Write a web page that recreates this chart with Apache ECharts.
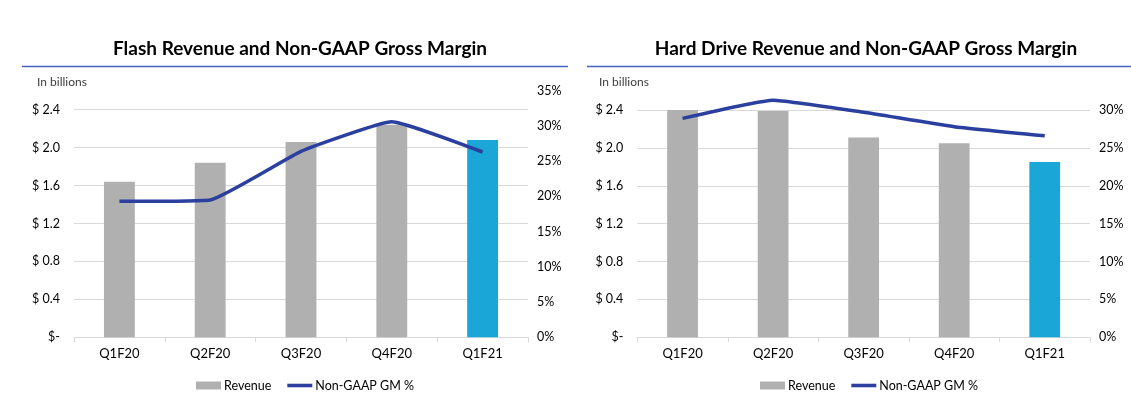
<!DOCTYPE html>
<html>
<head>
<meta charset="utf-8">
<script src="https://cdn.jsdelivr.net/npm/echarts@6/dist/echarts.min.js"></script>
<style>
html,body{margin:0;padding:0;background:#fff;}
#chart{width:1131px;height:395px;}
</style>
</head>
<body>
<div id="chart"></div>
<script>
// ---- data ----
const categories = ['Q1F20', 'Q2F20', 'Q3F20', 'Q4F20', 'Q1F21'];
const flashRevenue = [1.64, 1.84, 2.06, 2.24, 2.08];
const flashMargin = [19.3, 19.5, 26.4, 30.6, 26.3];
const hddRevenue = [2.41, 2.39, 2.11, 2.05, 1.85];
const hddMargin = [28.9, 31.3, 29.7, 27.8, 26.6];
const highlightIndex = 4;
const chartTitles = ['Flash Revenue and Non-GAAP Gross Margin', 'Hard Drive Revenue and Non-GAAP Gross Margin'];
const unitNote = 'In billions';
const seriesNames = ['Revenue', 'Non-GAAP GM %'];

// ---- style ----
const FONT = 'Lato, "Open Sans", sans-serif';
const GRAY = '#b0b0b0';
const CYAN = '#1aa7d8';
const LINE = '#2b3f9e';
const RULE = '#4a62c0';
const GRID = '#d9d9d9';

const chart = echarts.init(document.getElementById('chart'), null, {renderer: 'canvas'});

function barData(arr) {
  return arr.map((v, i) => i === highlightIndex ? {value: v, itemStyle: {color: CYAN}} : v);
}
function revLabel(v) {
  return v === 0 ? '$-' : '$ ' + v.toFixed(1);
}

const xAxisBase = {
  type: 'category',
  data: categories,
  boundaryGap: true,
  axisLine: {show: true, lineStyle: {color: GRID, width: 1}},
  axisTick: {show: true, length: 5, lineStyle: {color: GRID}},
  axisLabel: {color: '#000', fontFamily: FONT, fontSize: 13, margin: 10},
  splitLine: {show: false}
};

function leftAxis(gridIndex, max) {
  return {
    type: 'value', gridIndex: gridIndex, position: 'left',
    min: 0, max: max, interval: 0.4,
    axisLine: {show: false}, axisTick: {show: false},
    axisLabel: {color: '#000', fontFamily: FONT, fontSize: 12.5, margin: 14,
      showMaxLabel: max === 2.4, formatter: revLabel},
    splitLine: {show: true, showMaxLine: max === 2.4, lineStyle: {color: GRID, width: 1}}
  };
}
function rightAxis(gridIndex, max) {
  return {
    type: 'value', gridIndex: gridIndex, position: 'right',
    min: 0, max: max, interval: 5,
    axisLine: {show: false}, axisTick: {show: false},
    axisLabel: {color: '#000', fontFamily: FONT, fontSize: 12.5, margin: 9,
      formatter: v => v + '%'},
    splitLine: {show: false}
  };
}

const legendBase = {
  data: [
    {name: seriesNames[0], icon: 'rect'},
    {name: seriesNames[1], icon: 'path://M0,0L28,0L28,4L0,4Z'}
  ],
  itemWidth: 25, itemHeight: 8, itemGap: 16, padding: 0,
  textStyle: {color: '#000', fontFamily: FONT, fontSize: 12.5, padding: [0, 0, 0, -2]},
  top: 379, selectedMode: false
};

const option = {
  animation: false,
  backgroundColor: '#fff',
  title: [
    {text: chartTitles[0], left: 295, top: 34, textAlign: 'center',
      textStyle: {fontFamily: FONT, fontWeight: 'bold', fontSize: 19, color: '#000'}},
    {text: chartTitles[1], left: 861, top: 34, textAlign: 'center',
      textStyle: {fontFamily: FONT, fontWeight: 'bold', fontSize: 19, color: '#000'}},
    {text: unitNote, left: 32, top: 71,
      textStyle: {fontFamily: FONT, fontWeight: 'normal', fontSize: 12, color: '#404040'}},
    {text: unitNote, left: 594, top: 71,
      textStyle: {fontFamily: FONT, fontWeight: 'normal', fontSize: 12, color: '#404040'}}
  ],
  graphic: [
    {type: 'line', shape: {x1: 22, y1: 66.5, x2: 568, y2: 66.5}, style: {stroke: RULE, lineWidth: 1.5}},
    {type: 'line', shape: {x1: 587, y1: 66.5, x2: 1131, y2: 66.5}, style: {stroke: RULE, lineWidth: 1.5}}
  ],
  legend: [
    Object.assign({}, legendBase, {left: 196}),
    Object.assign({}, legendBase, {left: 760})
  ],
  grid: [
    {left: 74, width: 454, top: 90.7, height: 246.6, containLabel: false},
    {left: 637.3, width: 452.7, top: 110, height: 227.3, containLabel: false}
  ],
  xAxis: [
    Object.assign({}, xAxisBase, {gridIndex: 0}),
    Object.assign({}, xAxisBase, {gridIndex: 1})
  ],
  yAxis: [
    leftAxis(0, 2.6),
    rightAxis(0, 35),
    leftAxis(1, 2.4),
    rightAxis(1, 30)
  ],
  series: [
    {name: seriesNames[0], type: 'bar', xAxisIndex: 0, yAxisIndex: 0,
      data: barData(flashRevenue), barWidth: '34%', itemStyle: {color: GRAY}},
    {name: seriesNames[1], type: 'line', xAxisIndex: 0, yAxisIndex: 1,
      data: flashMargin, symbol: 'none', smooth: 0.12, clip: false,
      lineStyle: {color: LINE, width: 3.5}, itemStyle: {color: LINE}, z: 5},
    {name: seriesNames[0], type: 'bar', xAxisIndex: 1, yAxisIndex: 2,
      data: barData(hddRevenue), barWidth: '34%', itemStyle: {color: GRAY}},
    {name: seriesNames[1], type: 'line', xAxisIndex: 1, yAxisIndex: 3,
      data: hddMargin, symbol: 'none', smooth: 0.12, clip: false,
      lineStyle: {color: LINE, width: 3.5}, itemStyle: {color: LINE}, z: 5}
  ]
};
chart.setOption(option);
</script>
</body>
</html>
